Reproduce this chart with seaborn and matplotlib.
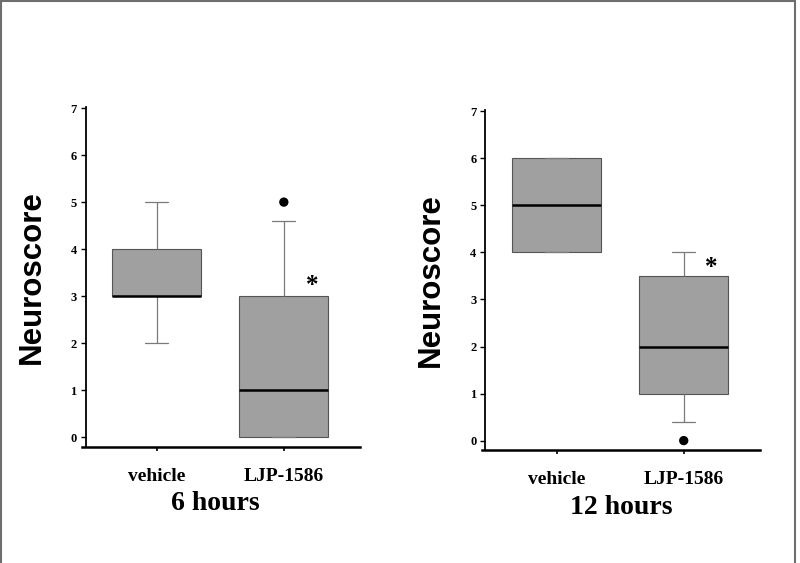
import pandas as pd
import matplotlib
matplotlib.use("Agg")
import matplotlib.pyplot as plt
import seaborn as sns
from matplotlib.patches import Rectangle

groups = ["vehicle", "LJP-1586"]
# box summaries: lower whisker, Q1, median, Q3, upper whisker
vehicle_6h = [2, 3, 3, 4, 5]
ljp_6h = [0, 0, 1, 3, 4.6]
vehicle_12h = [4, 4, 5, 6, 6]
ljp_12h = [0.4, 1, 2, 3.5, 4]
# outlier dots (LJP-1586 group)
outliers_6h = [5]
outliers_12h = [0]
# height of the significance star
star_6h = 3.22
star_12h = 3.68
panel_titles = ["6 hours", "12 hours"]
y_ticks = [0, 1, 2, 3, 4, 5, 6, 7]

sns.set_style("ticks")
plt.rcParams["font.family"] = ["Liberation Serif", "DejaVu Serif"]
plt.rcParams["font.weight"] = "bold"
plt.rcParams["text.color"] = "black"
plt.rcParams["axes.labelcolor"] = "black"
plt.rcParams["xtick.color"] = "black"
plt.rcParams["ytick.color"] = "black"

fig = plt.figure(figsize=(8, 5.63), dpi=100)
ax1 = fig.add_axes([0.1025, 0.2066, 0.3475, 0.604])
ax2 = fig.add_axes([0.602, 0.2007, 0.348, 0.604])


def draw_panel(ax, veh, ljp, outl, star, title, title_pos):
    df = pd.DataFrame({"group": [groups[0]] * len(veh) + [groups[1]] * len(ljp),
                       "score": veh + ljp})
    sns.boxplot(data=df, x="group", y="score", order=groups, ax=ax,
                color="#a0a0a0", saturation=1, width=0.7, whis=(0, 100),
                showfliers=False, linecolor="#555555", linewidth=0.8,
                capwidths=0.18,
                medianprops=dict(color="black", linewidth=1.8),
                whiskerprops=dict(color="#7a7a7a", linewidth=0.9),
                capprops=dict(color="#7a7a7a", linewidth=0.9))
    sns.scatterplot(x=[1] * len(outl), y=outl, ax=ax, color="black", s=45,
                    edgecolor="none", zorder=5)
    ax.text(1.22, star, "*", fontsize=18, ha="center", va="center",
            fontfamily="Liberation Serif", fontweight="bold", color="black")

    ax.set_xlim(-0.59, 1.6)
    ax.set_ylim(-0.2, 7.03)
    ax.set_yticks(y_ticks)
    ax.set_xlabel("")
    ax.set_ylabel("Neuroscore", fontsize=22.5, fontweight="heavy",
                  fontfamily="Liberation Sans", color="black")
    ax.yaxis.set_label_coords(-0.128, 0.5)
    sns.despine(ax=ax)
    ax.spines["left"].set_position(("data", -0.56))
    ax.spines["left"].set_linewidth(1.3)
    ax.spines["bottom"].set_linewidth(1.8)
    ax.spines["left"].set_color("black")
    ax.spines["bottom"].set_color("black")
    ax.tick_params(axis="y", length=3.5, width=1, labelsize=9, pad=3, colors="black")
    ax.tick_params(axis="x", length=3, width=1.2, labelsize=14, pad=12, colors="black")
    fig.text(title_pos[0], title_pos[1], title, fontsize=20, ha="center",
             va="center", fontweight="bold", color="black")


draw_panel(ax1, vehicle_6h, ljp_6h, outliers_6h, star_6h, panel_titles[0],
           (215.7 / 800, 1 - 503 / 563))
draw_panel(ax2, vehicle_12h, ljp_12h, outliers_12h, star_12h, panel_titles[1],
           (621.7 / 800, 1 - 508 / 563))

fig.patches.append(Rectangle((0.001, -0.01), 0.993, 1.008, transform=fig.transFigure,
                             fill=False, edgecolor="#6e6e6e", linewidth=1.5))

fig.savefig("out.png", dpi=100)
